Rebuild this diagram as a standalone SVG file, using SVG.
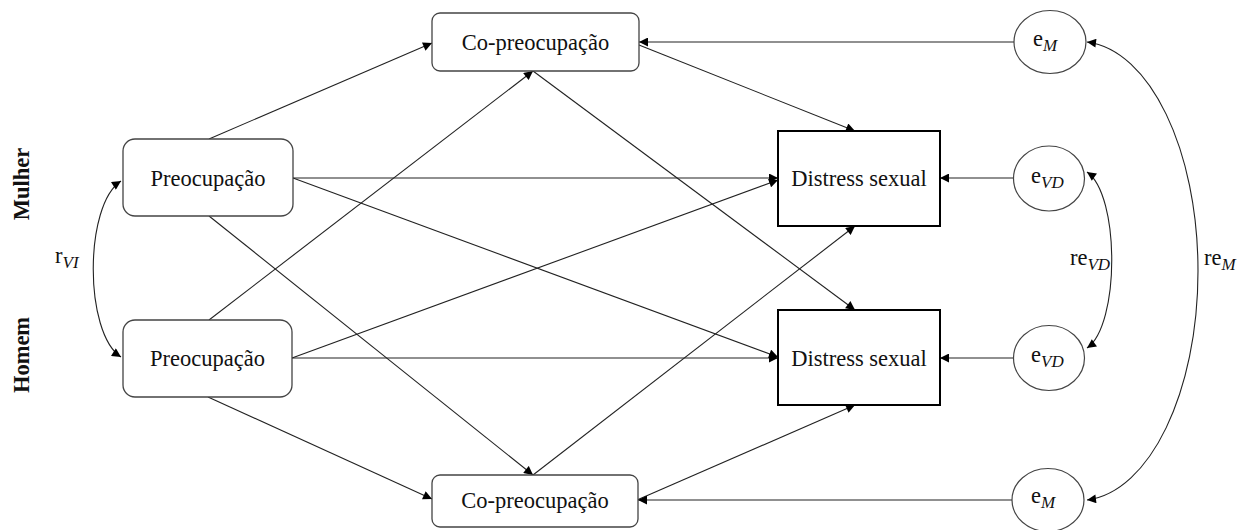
<svg xmlns="http://www.w3.org/2000/svg" width="1248" height="530" viewBox="0 0 1248 530" font-family="'Liberation Serif', Tinos, 'Times New Roman', 'DejaVu Serif', serif">
<style>
  text { font-family: 'Liberation Serif', Tinos, 'Times New Roman', 'DejaVu Serif', serif; fill: #111; }
  .lbl { font-size: 22.5px; text-anchor: middle; }
  .sub { font-size: 17px; font-style: italic; }
  .grp { font-size: 22.5px; font-weight: bold; text-anchor: middle; }
  .rbox { fill: #fff; stroke: #444; stroke-width: 1.3; }
  .sbox { fill: #fff; stroke: #000; stroke-width: 2; }
  .err { fill: #fff; stroke: #444; stroke-width: 1.2; }
  .c { fill: none; stroke: #222; stroke-width: 1.1; marker-end: url(#ah); }
  .cc { fill: none; stroke: #222; stroke-width: 1.1; marker-end: url(#ah); marker-start: url(#ahs); }
</style>
<defs>
  <marker id="ah" viewBox="0 0 10 10" refX="10" refY="5" markerWidth="10" markerHeight="9" markerUnits="userSpaceOnUse" orient="auto">
    <path d="M0,0 L10,5 L0,10 Z" fill="#000"/>
  </marker>
  <marker id="ahs" viewBox="0 0 10 10" refX="0" refY="5" markerWidth="10" markerHeight="9" markerUnits="userSpaceOnUse" orient="auto">
    <path d="M10,0 L0,5 L10,10 Z" fill="#000"/>
  </marker>
</defs>

<g id="connectors">
  <line class="c" x1="209" y1="139" x2="432" y2="43"/>
  <line class="c" x1="293" y1="178" x2="778" y2="178"/>
  <line class="c" x1="293" y1="178" x2="778" y2="357"/>
  <line class="c" x1="209" y1="216" x2="533" y2="475"/>
  <line class="c" x1="209" y1="320" x2="533" y2="71"/>
  <line class="c" x1="292" y1="358" x2="778" y2="180"/>
  <line class="c" x1="292" y1="358" x2="778" y2="358"/>
  <line class="c" x1="208" y1="397" x2="432" y2="499"/>
  <line class="c" x1="533" y1="71" x2="855" y2="310"/>
  <line class="c" x1="639" y1="45" x2="855" y2="131"/>
  <line class="c" x1="533" y1="475" x2="855" y2="226"/>
  <line class="c" x1="637" y1="500" x2="855" y2="405"/>
  <line class="c" x1="1014" y1="42" x2="639" y2="42"/>
  <line class="c" x1="1013" y1="178" x2="940" y2="178"/>
  <line class="c" x1="1013" y1="358" x2="940" y2="358"/>
  <line class="c" x1="1012" y1="500" x2="638" y2="500"/>
  <path class="cc" d="M121,181 C84,205 84,333 121,357"/>
  <path class="cc" d="M1087,172 C1120,195 1120,325 1087,348"/>
  <path class="cc" d="M1087,42 C1150,50 1198,150 1198,271 C1198,392 1150,492 1087,500"/>
</g>

<g id="label-mulher"><text class="grp" transform="translate(29,184) rotate(-90)">Mulher</text></g>
<g id="label-homem"><text class="grp" transform="translate(29,355) rotate(-90)">Homem</text></g>

<g id="label-rvi"><text x="55" y="263" font-size="22.5px">r<tspan class="sub" dy="5">VI</tspan></text></g>
<g id="label-revd"><text x="1070" y="265" font-size="22.5px">re<tspan class="sub" dy="5">VD</tspan></text></g>
<g id="label-rem"><text x="1204" y="265" font-size="22.5px">re<tspan class="sub" dy="5">M</tspan></text></g>

<g id="node-preoc-mulher">
  <rect class="rbox" x="123" y="139" width="170" height="77" rx="12"/>
  <text class="lbl" x="208" y="186">Preocupação</text>
</g>
<g id="node-preoc-homem">
  <rect class="rbox" x="123" y="320" width="169" height="77" rx="12"/>
  <text class="lbl" x="207.5" y="366">Preocupação</text>
</g>
<g id="node-copreoc-mulher">
  <rect class="rbox" x="432" y="13" width="207" height="58" rx="8"/>
  <text class="lbl" x="535.5" y="50">Co-preocupação</text>
</g>
<g id="node-copreoc-homem">
  <rect class="rbox" x="432" y="475" width="206" height="52" rx="8"/>
  <text class="lbl" x="535" y="508">Co-preocupação</text>
</g>
<g id="node-distress-mulher">
  <rect class="sbox" x="778" y="131" width="162" height="95"/>
  <text class="lbl" x="859" y="186">Distress sexual</text>
</g>
<g id="node-distress-homem">
  <rect class="sbox" x="778" y="310" width="162" height="95"/>
  <text class="lbl" x="859" y="366">Distress sexual</text>
</g>
<g id="node-em-mulher">
  <ellipse class="err" cx="1050" cy="42" rx="36" ry="31.5"/>
  <text x="1033" y="46" font-size="22.5px">e<tspan class="sub" dy="5">M</tspan></text>
</g>
<g id="node-evd-mulher">
  <ellipse class="err" cx="1049" cy="178.5" rx="35.5" ry="32.5"/>
  <text x="1031" y="183" font-size="22.5px">e<tspan class="sub" dy="5">VD</tspan></text>
</g>
<g id="node-evd-homem">
  <ellipse class="err" cx="1049" cy="358" rx="35.5" ry="32.5"/>
  <text x="1031" y="362" font-size="22.5px">e<tspan class="sub" dy="5">VD</tspan></text>
</g>
<g id="node-em-homem">
  <ellipse class="err" cx="1048" cy="500" rx="36" ry="31.5"/>
  <text x="1031" y="503" font-size="22.5px">e<tspan class="sub" dy="5">M</tspan></text>
</g>
</svg>
